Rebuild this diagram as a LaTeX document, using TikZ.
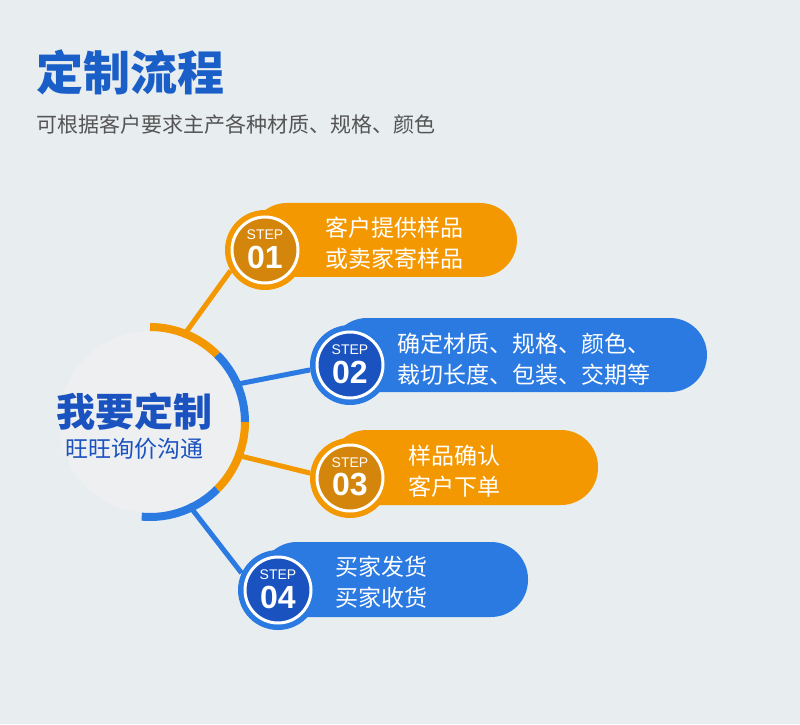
\documentclass[tikz,border=0pt]{standalone}
\usepackage{fontspec}
\setmainfont{Noto Sans CJK SC}
\newfontfamily\numfont{Liberation Sans}
\usetikzlibrary{positioning}
\usetikzlibrary{calc}
\definecolor{bgc}{HTML}{E8EDF0}
\definecolor{hubfill}{HTML}{EEEFF1}
\definecolor{titleblue}{HTML}{1A5EC8}
\definecolor{subgray}{HTML}{555555}
\definecolor{orangeA}{HTML}{F39800}
\definecolor{orangeB}{HTML}{D4850C}
\definecolor{blueA}{HTML}{2A7AE2}
\definecolor{blueB}{HTML}{1A52C0}
\tikzset{
  pill/.style={fill=#1, rounded corners=37pt},
  ring/.style={line width=8pt, #1},
  link/.style={line width=5pt, #1},
  badge/.style={circle, fill=#1, draw=white, line width=3pt, minimum size=66pt, inner sep=0pt},
  outer/.style={circle, fill=#1, minimum size=80pt, inner sep=0pt},
  steplabel/.style={text=white, inner sep=0pt, font=\numfont\fontsize{14}{14}\selectfont},
  stepnum/.style={text=white, inner sep=0pt, font=\numfont\bfseries\fontsize{32}{32}\selectfont},
  ptext/.style={text=white, font=\fontsize{23}{31}\selectfont, align=left, anchor=west}
}
\begin{document}
\begin{tikzpicture}[x=1pt,y=1pt]
	\fill [bgc] (0,0) rectangle (800,724);
	\useasboundingbox (0,0) rectangle (800,724);
	
	% title
	\node [anchor=west, text=titleblue, font=\fontsize{47}{50}\selectfont\bfseries] (title) at (33,652) {定制流程};
	\node [anchor=west, text=subgray, font=\fontsize{21}{24}\selectfont] (subtitle) at (33,599) {可根据客户要求主产各种材质、规格、颜色};
	
	% hub
	\node [circle, fill=hubfill, minimum size=182pt, inner sep=0pt] (hub) at (150,302) {};
	\draw [ring=orangeA] (150,397) arc (90:45:95);
	\draw [ring=blueA] ($(150,302)+(45:95)$) arc (45:0:95);
	\draw [ring=orangeA] (245,302) arc (0:-45:95);
	\draw [ring=blueA] ($(150,302)+(-45:95)$) arc (-45:-95:95);
	\node [text=blueB, font=\fontsize{39}{42}\selectfont\bfseries] (hubtitle) at (134,312) {我要定制};
	\node [text=blueB, font=\fontsize{23}{25}\selectfont] (hubsub) at (134,275) {旺旺询价沟通};
	
	% pills
	\fill [pill=orangeA] (250,447) rectangle (517,521);
	\fill [pill=blueA] (330,332) rectangle (707,406);
	\fill [pill=orangeA] (330,219) rectangle (598,294);
	\fill [pill=blueA] (260,107) rectangle (528,182);
	
	% badges
	\node [outer=orangeA] (o1) at (265,474) {};
	\node [outer=blueA] (o2) at (350,359) {};
	\node [outer=orangeA] (o3) at (350,246) {};
	\node [outer=blueA] (o4) at (278,134) {};
	\foreach \n/\c/\p in {1/orangeB/o1, 2/blueB/o2, 3/orangeB/o3, 4/blueB/o4}{
		\node [badge=\c] (b\n) at (\p) {};
		\node [steplabel] (s\n) at ($(\p)+(0,15)$) {STEP};
		\node [stepnum] (n\n) at ($(\p)+(0,-7)$) {0\n};
	}
	
	% links
	\draw [link=orangeA] (hub.69) -- (o1.211);
	\draw [link=blueA] (hub.24) -- (o2.187);
	\draw [link=orangeA] (hub.-21) -- (o3.173);
	\draw [link=blueA] (hub.-65) -- (o4.155);
	
	% texts
	\node [ptext] (t1) at (322,481) {客户提供样品\\或卖家寄样品};
	\node [ptext] (t2) at (394,365) {确定材质、规格、颜色、\\裁切长度、包装、交期等};
	\node [ptext] (t3) at (405,253) {样品确认\\客户下单};
	\node [ptext] (t4) at (332,142) {买家发货\\买家收货};
\end{tikzpicture}
\end{document}
